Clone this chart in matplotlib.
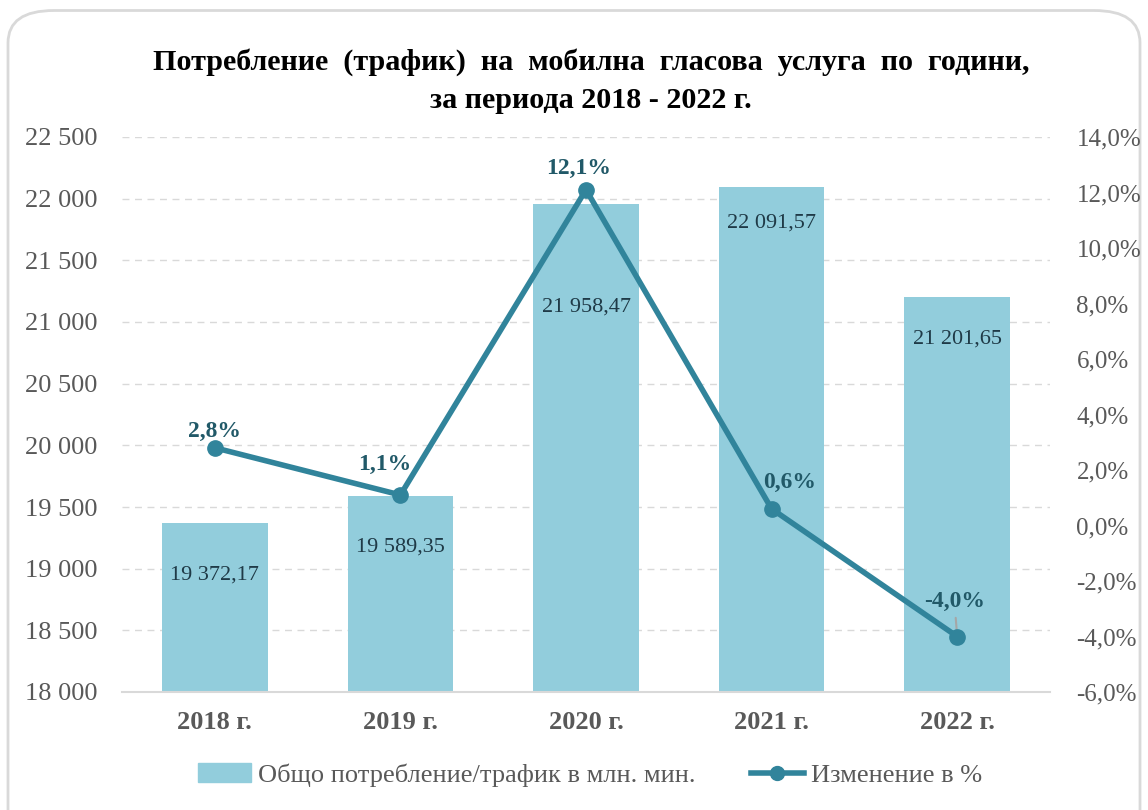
#!/usr/bin/env python3
import matplotlib
matplotlib.use("Agg")
import matplotlib.pyplot as plt
from matplotlib.patches import FancyBboxPatch
from matplotlib.ticker import FuncFormatter, MultipleLocator

years = ["2018 г.", "2019 г.", "2020 г.", "2021 г.", "2022 г."]
traffic = [19372.17, 19589.35, 21958.47, 22091.57, 21201.65]
change = [2.8, 1.1, 12.1, 0.6, -4.0]

# offsets (points) of the value labels relative to bar tops / line markers
bar_label_offsets = [-38, -37, -74, -26, -30]
pct_label_offsets = [(0, 12), (-11, 22), (-5, 15), (13, 19), (-2, 25)]

BAR_COLOR = "#92CDDC"
LINE_COLOR = "#31849B"
LABEL_COLOR = "#215968"
TICK_COLOR = "#595959"

plt.rcParams["font.family"] = ["Liberation Serif", "DejaVu Serif"]

fig = plt.figure(figsize=(11.48, 8.1), dpi=100)
border = FancyBboxPatch((8 / 1148, -0.05), 1132 / 1148, 840 / 810,
                        boxstyle="round,pad=0,rounding_size=0.04",
                        transform=fig.transFigure, facecolor="white",
                        edgecolor="#D9D9D9", linewidth=2, zorder=-10)
fig.patches.append(border)

ax = fig.add_axes([122 / 1148, 1 - 692 / 810, 928 / 1148, 555 / 810])
ax.set_facecolor("none")
x = list(range(len(years)))

ax.bar(x, traffic, width=0.57, color=BAR_COLOR, zorder=2)
ax.set_ylim(18000, 22500)
ax.set_xlim(-0.5, len(years) - 0.5)
ax.yaxis.set_major_locator(MultipleLocator(500))
ax.yaxis.set_major_formatter(FuncFormatter(lambda v, p: f"{int(v):,}".replace(",", " ")))
ax.grid(axis="y", linestyle=(0, (5, 4)), color="#D9D9D9", linewidth=1, zorder=0)
ax.set_xticks(x)
ax.set_xticklabels(years, fontweight="bold")
ax.tick_params(axis="x", length=0, pad=14, labelsize=19, labelcolor=TICK_COLOR)
ax.tick_params(axis="y", length=0, pad=70, labelsize=19, labelcolor=TICK_COLOR)
for lbl in ax.get_yticklabels():
    lbl.set_horizontalalignment("left")
for s in ["top", "right", "left"]:
    ax.spines[s].set_visible(False)
ax.spines["bottom"].set_color("#D9D9D9")
ax.spines["bottom"].set_linewidth(1.5)

for xi, v, off in zip(x, traffic, bar_label_offsets):
    txt = f"{v:,.2f}".replace(",", " ").replace(".", ",")
    ax.annotate(txt, (xi, v), xytext=(0, off), textcoords="offset points",
                ha="center", va="center", fontsize=16, color="#1F3A47", zorder=3)

ax2 = ax.twinx()
ax2.set_ylim(-6, 14)
ax2.yaxis.set_major_locator(MultipleLocator(2))
ax2.yaxis.set_major_formatter(FuncFormatter(lambda v, p: f"{v:.1f}%".replace(".", ",")))
ax2.tick_params(axis="y", length=0, pad=19, labelsize=18, labelcolor=TICK_COLOR)
for s in ax2.spines.values():
    s.set_visible(False)

ax2.plot(x, change, color=LINE_COLOR, linewidth=4, marker="o", markersize=11, zorder=4)
for xi, c, off in zip(x, change, pct_label_offsets):
    txt = f"{c:.1f}%".replace(".", ",")
    kw = dict(xytext=off, textcoords="offset points", ha="center", va="center",
              fontsize=17, fontweight="bold", color=LABEL_COLOR, zorder=3)
    if c < 0:
        kw["arrowprops"] = dict(arrowstyle="-", color="#A6A6A6", lw=1.5,
                                shrinkA=2, shrinkB=0)
    ax2.annotate(txt, (xi, c), **kw)

fig.text(591 / 1148, 1 - 62 / 810, "Потребление  (трафик)  на  мобилна  гласова  услуга  по  години,",
         ha="center", va="center", fontsize=21.7, fontweight="bold")
fig.text(591 / 1148, 1 - 100 / 810, "за периода 2018 - 2022 г.",
         ha="center", va="center", fontsize=21.7, fontweight="bold")

h1 = plt.Rectangle((0, 0), 1, 1, color=BAR_COLOR)
h2, = ax2.plot([], [], color=LINE_COLOR, linewidth=4, marker="o", markersize=10)
leg = fig.legend([h1, h2], ["Общо потребление/трафик в млн. мин.", "Изменение в %"],
                 loc="center", bbox_to_anchor=(590 / 1148, 1 - 775 / 810), ncol=2,
                 frameon=False, fontsize=19, columnspacing=2.1, handlelength=2.0,
                 handletextpad=0.27)
for t in leg.get_texts():
    t.set_color(TICK_COLOR)

fig.savefig("out.png", dpi=100)
